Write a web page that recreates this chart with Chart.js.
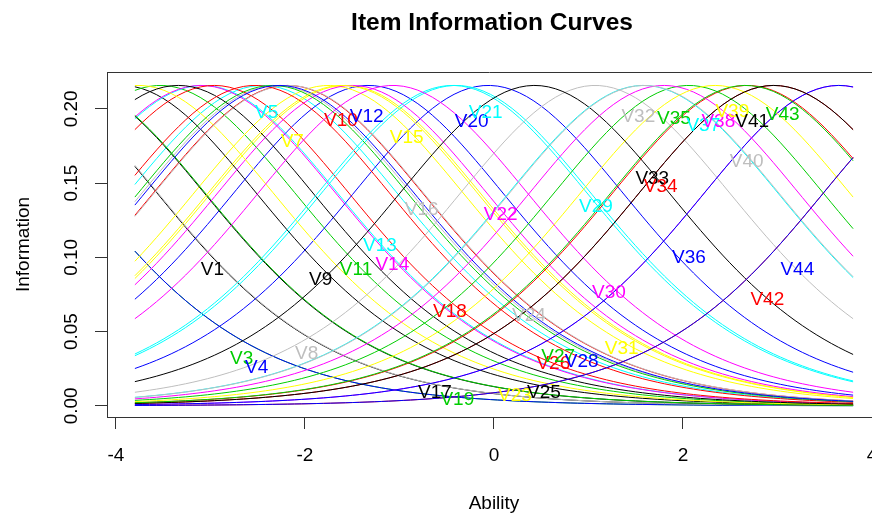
<!DOCTYPE html>
<html><head><meta charset="utf-8">
<script src="https://cdn.jsdelivr.net/npm/chart.js@4/dist/chart.umd.min.js"></script>
<style>html,body{margin:0;padding:0;background:#fff}#wrap{width:872px;height:516px;position:relative}</style>
</head><body><div id="wrap"><canvas id="c" width="872" height="516"></canvas></div>
<script>
// ---- data ----
const itemNames = ["V1","V2","V3","V4","V5","V6","V7","V8","V9","V10","V11","V12","V13","V14","V15","V16","V17","V18","V19","V20","V21","V22","V23","V24","V25","V26","V27","V28","V29","V30","V31","V32","V33","V34","V35","V36","V37","V38","V39","V40","V41","V42","V43","V44"];
// item locations (ability at which each curve peaks)
const itemDifficulty = [-4.99,2.96,-5.75,-5.75,-2.45,3.65,-1.57,-4.98,-3.94,-2.18,-3.53,-1.33,-3.08,-3.10,-1.75,-2.30,-4.49,-2.96,-4.48,-0.06,-0.40,-1.50,-3.76,-2.17,-3.34,-2.53,-2.34,-2.27,-0.44,-1.07,-1.60,1.07,0.43,2.68,2.06,3.65,1.58,1.80,2.34,1.59,2.96,4.91,2.66,4.91];
const itemDiscrimination = 0.929;   // common slope, peak information ~0.216
const abilityRange = [-3.8, 3.8];
const abilityPoints = 100;
const abilityTicks = [-4, -2, 0, 2, 4];
const infoTicks = [0.00, 0.05, 0.10, 0.15, 0.20];
const infoTickLabels = ["0.00", "0.05", "0.10", "0.15", "0.20"];
// where each item name is written (ability, information); null = not visible
const labelAbility = [-2.979,null,-2.670,-2.511,-2.405,null,-2.134,-1.982,-1.834,-1.619,-1.460,-1.347,-1.206,-1.076,-0.924,-0.765,-0.624,-0.466,-0.388,-0.236,-0.088,0.071,0.222,0.370,0.529,0.628,0.680,0.928,1.079,1.217,1.351,1.527,1.675,1.764,1.905,2.063,2.215,2.374,2.522,2.674,2.733,2.892,3.055,3.210];
const labelInfo = [0.0915,null,0.0320,0.0256,0.1971,null,0.1776,0.0349,0.0847,0.1919,0.0915,0.1948,0.1077,0.0948,0.1802,0.1319,0.0088,0.0634,0.0043,0.1914,0.1971,0.1290,0.0065,0.0605,0.0088,0.0286,0.0330,0.0297,0.1339,0.0760,0.0387,0.1948,0.1528,0.1472,0.1931,0.0994,0.1887,0.1910,0.1982,0.1641,0.1914,0.0713,0.1960,0.0919];

// ---- styles ----
const palette = ["#000000","#FF0000","#00CD00","#0000FF","#00FFFF","#FF00FF","#FFFF00","#BEBEBE"];
const FONT = '"Liberation Sans", Arial, sans-serif';

// ability grid and item information (1PL / Rasch information function)
const abilityGrid = [];
for (let k = 0; k < abilityPoints; k++) abilityGrid.push(abilityRange[0] + k * (abilityRange[1] - abilityRange[0]) / (abilityPoints - 1));
function information(theta, b) {
  const p = 1 / (1 + Math.exp(-itemDiscrimination * (theta - b)));
  return itemDiscrimination * itemDiscrimination * p * (1 - p);
}

const datasets = itemNames.map((name, i) => ({
  label: name,
  data: abilityGrid.map(t => ({ x: t, y: information(t, itemDifficulty[i]) })),
  borderColor: palette[i % palette.length],
  backgroundColor: palette[i % palette.length],
  borderWidth: 1,
  pointRadius: 0,
  tension: 0,
  fill: false,
  order: itemNames.length - i
}));

const decor = {
  id: 'decor',
  afterDatasetsDraw(chart) {
    const { ctx, chartArea: a, scales: { x, y } } = chart;
    ctx.save();
    ctx.strokeStyle = '#333'; ctx.lineWidth = 1;
    ctx.beginPath(); ctx.moveTo(a.left, a.top + 0.5); ctx.lineTo(a.right, a.top + 0.5); ctx.stroke();
    ctx.font = '19px ' + FONT; ctx.textAlign = 'center'; ctx.textBaseline = 'middle';
    ctx.save();
    ctx.beginPath(); ctx.rect(a.left, a.top, a.right - a.left, a.bottom - a.top); ctx.clip();
    itemNames.forEach((n, i) => {
      if (labelAbility[i] === null) return;
      ctx.fillStyle = palette[i % palette.length];
      ctx.fillText(n, x.getPixelForValue(labelAbility[i]), y.getPixelForValue(labelInfo[i]));
    });
    ctx.restore();
    ctx.fillStyle = '#000';
    abilityTicks.forEach(t => ctx.fillText(String(t), x.getPixelForValue(t), 456));
    infoTicks.forEach((t, i) => {
      ctx.save(); ctx.translate(72, y.getPixelForValue(t)); ctx.rotate(-Math.PI / 2);
      ctx.fillText(infoTickLabels[i], 0, 0); ctx.restore();
    });
    ctx.fillText('Ability', (a.left + 881) / 2, 504);
    ctx.save(); ctx.translate(24, (a.top + a.bottom) / 2); ctx.rotate(-Math.PI / 2);
    ctx.fillText('Information', 0, 0); ctx.restore();
    ctx.font = 'bold 24.5px ' + FONT;
    ctx.fillText('Item Information Curves', 492, 23);
    ctx.restore();
  }
};

new Chart(document.getElementById('c'), {
  type: 'line',
  data: { datasets },
  options: {
    responsive: false, animation: false, devicePixelRatio: 1,
    layout: { padding: { top: 72, right: 0, left: 0, bottom: 0 } },
    plugins: { legend: { display: false }, tooltip: { enabled: false }, title: { display: false } },
    scales: {
      x: {
        type: 'linear', min: -4.095, max: 4.0,
        afterFit(s) { s.height = 99; },
        afterBuildTicks(s) { s.ticks = abilityTicks.map(v => ({ value: v })); },
        ticks: { display: false },
        grid: { drawOnChartArea: false, drawTicks: true, tickLength: 12, color: '#333' },
        border: { display: true, color: '#333', width: 1 }
      },
      y: {
        type: 'linear', min: -0.0075, max: 0.2248,
        afterFit(s) { s.width = 107; },
        afterBuildTicks(s) { s.ticks = infoTicks.map(v => ({ value: v })); },
        ticks: { display: false },
        grid: { drawOnChartArea: false, drawTicks: true, tickLength: 12, color: '#333' },
        border: { display: true, color: '#333', width: 1 }
      }
    }
  },
  plugins: [decor]
});
</script></body></html>
